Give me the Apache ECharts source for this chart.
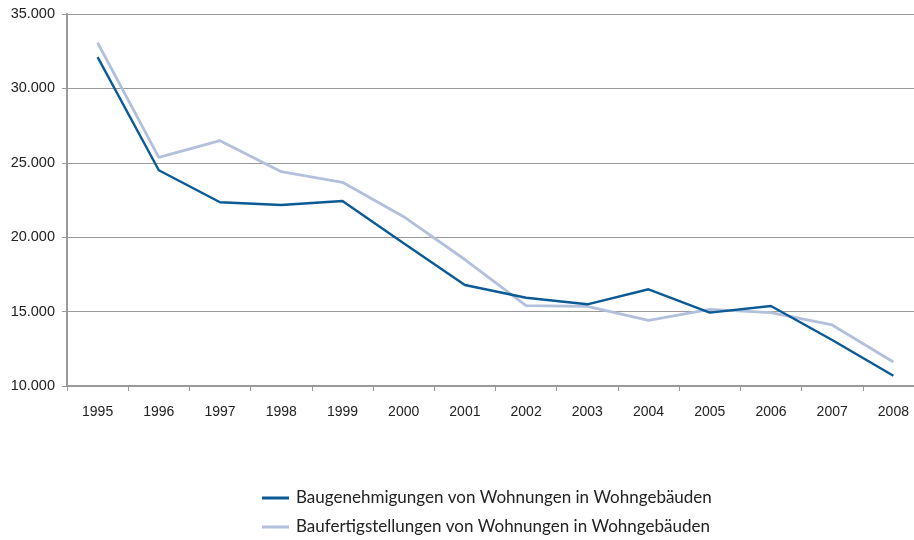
<!DOCTYPE html>
<html><head><meta charset="utf-8">
<script src="https://cdn.jsdelivr.net/npm/echarts@6/dist/echarts.min.js"></script>
<style>html,body{margin:0;padding:0;background:#fff}#c{width:914px;height:540px}</style>
</head><body><div id="c"></div>
<script>
const years = ['1995','1996','1997','1998','1999','2000','2001','2002','2003','2004','2005','2006','2007','2008'];
const genehmigungen = [32100, 24500, 22350, 22160, 22430, 19600, 16790, 15930, 15490, 16500, 14930, 15380, 13090, 10690];
const fertigstellungen = [33070, 25370, 26490, 24400, 23690, 21380, 18500, 15400, 15350, 14410, 15150, 14930, 14100, 11610];
const seriesNames = ['Baugenehmigungen von Wohnungen in Wohngebäuden', 'Baufertigstellungen von Wohnungen in Wohngebäuden'];

const chart = echarts.init(document.getElementById('c'));
chart.setOption({
  animation: false,
  grid: { left: 67, top: 14, width: 857, height: 372, containLabel: false, outerBoundsMode: 'none' },
  xAxis: {
    type: 'category', data: years, boundaryGap: true,
    axisLine: { lineStyle: { color: '#999', width: 2 } },
    axisTick: { show: true, length: 5, lineStyle: { color: '#999', width: 1 } },
    axisLabel: { color: '#222', fontFamily: 'Liberation Sans', fontSize: 14, margin: 19 }
  },
  yAxis: {
    type: 'value', min: 10000, max: 35000, interval: 5000,
    axisLine: { show: true, lineStyle: { color: '#999', width: 2 } },
    axisTick: { show: true, length: 5, lineStyle: { color: '#999', width: 1 } },
    splitLine: { lineStyle: { color: '#999', width: 1 } },
    axisLabel: { color: '#222', fontFamily: 'Liberation Sans', fontSize: 14.5, margin: 12,
      formatter: v => String(v).replace(/\B(?=(\d{3})+(?!\d))/g, '.') }
  },
  legend: {
    orient: 'vertical', left: 262, top: 489, padding: 0, itemGap: 11,
    icon: 'rect', itemWidth: 27, itemHeight: 3,
    textStyle: { color: '#222', fontFamily: 'Lato', fontSize: 17, lineHeight: 18, padding: [0, 0, 0, 2] },
    data: seriesNames
  },
  series: [
    { name: seriesNames[0], type: 'line', data: genehmigungen, symbol: 'none',
      lineStyle: { color: '#0a5a96', width: 2.4 }, itemStyle: { color: '#0a5a96' }, z: 3 },
    { name: seriesNames[1], type: 'line', data: fertigstellungen, symbol: 'none',
      lineStyle: { color: '#b2c0db', width: 2.8 }, itemStyle: { color: '#b2c0db' }, z: 2 }
  ]
});
</script></body></html>
